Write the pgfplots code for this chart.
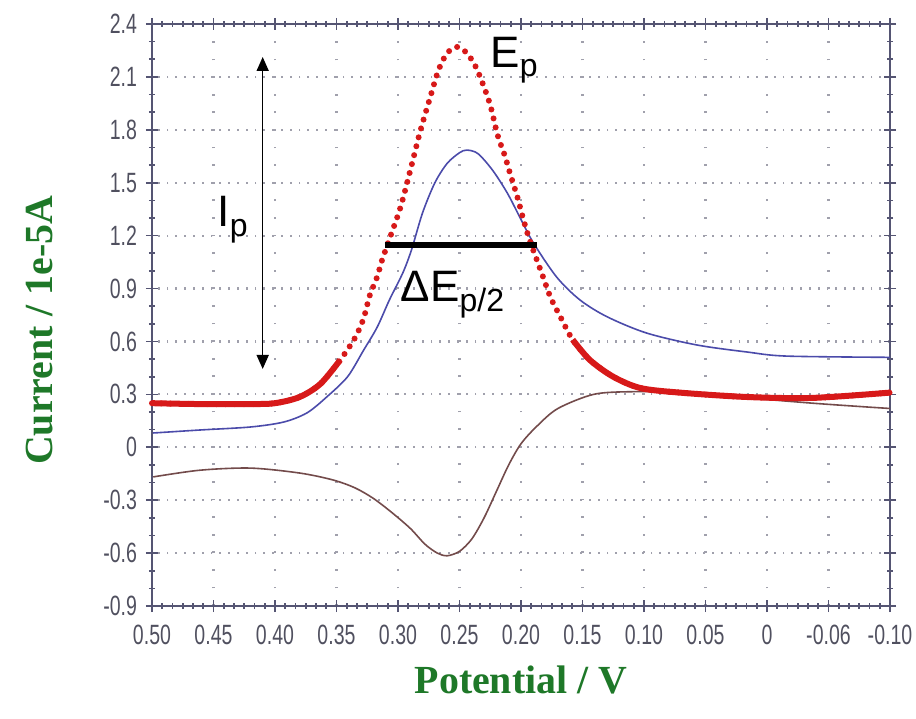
\documentclass[border=0pt]{standalone}
\usepackage{fontspec}
\setmainfont{Liberation Sans}
\newfontfamily\tickfont[FakeStretch=0.7]{Liberation Sans}
\newfontfamily\labfont{Liberation Serif}
\usepackage{pgfplots}
\pgfplotsset{compat=1.18}
\usetikzlibrary{arrows.meta}
\definecolor{axisgray}{RGB}{85,85,115}
\definecolor{tickgray}{RGB}{80,80,95}
\definecolor{gridgray}{RGB}{160,160,172}
\definecolor{labgreen}{RGB}{30,120,40}
\definecolor{cvred}{RGB}{215,25,25}
\definecolor{cvblue}{RGB}{75,75,170}
\definecolor{cvbrown}{RGB}{115,75,75}
\newcommand{\sub}[1]{\raisebox{-0.22em}{\fontsize{16bp}{16bp}\selectfont #1}}

% red: dotted differential pulse curve
\pgfplotstableread{
x y
0.500 0.25
0.461 0.245
0.420 0.245
0.400 0.25
0.380 0.285
0.363 0.36
0.347 0.495
0.335 0.62
0.328 0.73
0.323 0.86
0.317 0.965
0.313 1.06
0.307 1.18
0.298 1.36
0.290 1.57
0.282 1.79
0.274 1.98
0.267 2.14
0.260 2.235
0.252 2.27
0.244 2.235
0.237 2.16
0.231 2.06
0.225 1.94
0.219 1.77
0.213 1.65
0.209 1.555
0.203 1.42
0.198 1.29
0.193 1.175
0.187 1.06
0.182 0.965
0.176 0.85
0.168 0.74
0.158 0.61
0.144 0.495
0.125 0.40
0.103 0.336
0.071 0.31
0.016 0.285
-0.037 0.28
-0.100 0.31
}\redtab

\pgfplotstableread{
x y
0.499 0.081
0.461 0.098
0.420 0.115
0.393 0.143
0.374 0.195
0.358 0.285
0.341 0.40
0.328 0.55
0.317 0.68
0.307 0.835
0.296 0.99
0.289 1.12
0.280 1.33
0.270 1.50
0.260 1.61
0.250 1.67
0.244 1.685
0.235 1.665
0.223 1.57
0.211 1.44
0.201 1.305
0.190 1.16
0.171 0.965
0.152 0.835
0.130 0.74
0.098 0.648
0.057 0.58
0.016 0.54
-0.016 0.517
-0.100 0.51
}\bluetab

\pgfplotstableread{
x y
0.499 -0.168
0.461 -0.13
0.420 -0.118
0.380 -0.146
0.353 -0.185
0.335 -0.23
0.320 -0.29
0.305 -0.37
0.290 -0.46
0.278 -0.55
0.268 -0.60
0.260 -0.615
0.250 -0.59
0.240 -0.52
0.230 -0.40
0.220 -0.25
0.210 -0.10
0.200 0.02
0.187 0.12
0.170 0.22
0.141 0.30
0.111 0.315
0.071 0.31
0.016 0.28
-0.037 0.25
-0.078 0.23
-0.100 0.22
}\browntab

\begin{document}
\begin{tikzpicture}
\begin{axis}[
    scale only axis,
    width=369bp, height=291bp,
    x dir=reverse,
    xmin=-0.10, xmax=0.50,
    ymin=-0.9, ymax=2.4,
    xtick={-0.10,-0.05,0,0.05,0.10,0.15,0.20,0.25,0.30,0.35,0.40,0.45,0.50},
    xticklabels={-0.10,-0.06,0,0.05,0.10,0.15,0.20,0.25,0.30,0.35,0.40,0.45,0.50},
    ytick={-0.9,-0.6,-0.3,0,0.3,0.6,0.9,1.2,1.5,1.8,2.1,2.4},
    yticklabels={-0.9,-0.6,-0.3,0,0.3,0.6,0.9,1.2,1.5,1.8,2.1,2.4},
    minor x tick num=5,
    minor y tick num=2,
    tick align=center,
    major tick length=6bp,
    minor tick length=3bp,
    every tick/.style={axisgray, line width=0.8bp},
    axis line style={axisgray, line width=1bp},
    ticklabel style={font=\tickfont\fontsize{14}{14}\selectfont, text=tickgray},
    xticklabel style={yshift=-3bp},
    yticklabel style={xshift=-1bp},
    xmajorgrids, ymajorgrids,
    major grid style={draw=gridgray, line width=1.1bp, dash pattern=on 0.9bp off 7.9bp},
    every axis y grid/.append style={dash pattern=on 0.9bp off 3.5bp},
    xlabel={Potential / V},
    ylabel={Current / 1e-5A},
    every axis x label/.style={at={(axis description cs:0.5,0)}, yshift=-37bp, anchor=center},
    every axis y label/.style={at={(axis description cs:0,0.474)}, xshift=-56bp, rotate=90, anchor=center},
    label style={font=\labfont\bfseries\fontsize{20}{20}\selectfont, text=labgreen},
    clip=false,
]
\coordinate (SW) at (axis description cs:0,0);
\coordinate (NE) at (axis description cs:1,1);

\addplot[cvblue, line width=0.8bp, smooth] table[x=x, y=y] {\bluetab};
\addplot[cvbrown, line width=0.8bp, smooth] table[x=x, y=y] {\browntab};

% red curve: flat tails look solid, steep part shows separate dots
\addplot[cvred, line width=3bp, smooth, unbounded coords=jump,
    restrict x to domain=0.338:0.51] table[x=x, y=y] {\redtab};
\addplot[cvred, line width=3bp, smooth, unbounded coords=jump,
    restrict x to domain=-0.11:0.16] table[x=x, y=y] {\redtab};
\addplot[cvred, line width=3bp, smooth, line cap=round,
    dash pattern=on 0pt off 4.6bp] table[x=x, y=y] {\redtab};

% annotations
\draw[black, line width=0.8bp, {Triangle[length=7bp,width=6bp]}-{Triangle[length=7bp,width=6bp]}]
    (axis cs:0.41,2.213) -- (axis cs:0.41,0.444);
\draw[black, line width=3bp] (axis cs:0.3106,1.147) -- (axis cs:0.187,1.147);
\node[anchor=base west, inner sep=0pt, font=\fontsize{22bp}{22bp}\selectfont]
    at (axis cs:0.225,2.156) {E\sub{p}};
\node[anchor=base west, inner sep=0pt, font=\fontsize{22bp}{22bp}\selectfont]
    at (axis cs:0.447,1.249) {I\sub{p}};
\node[anchor=base west, inner sep=0pt, font=\fontsize{22bp}{22bp}\selectfont]
    at (axis cs:0.298,0.824) {ΔE\sub{p/2}};
\end{axis}
\pgfresetboundingbox
\path[use as bounding box] ([shift={(-76bp,-56bp)}]SW) rectangle ([shift={(13bp,12bp)}]NE);
\end{tikzpicture}
\end{document}
